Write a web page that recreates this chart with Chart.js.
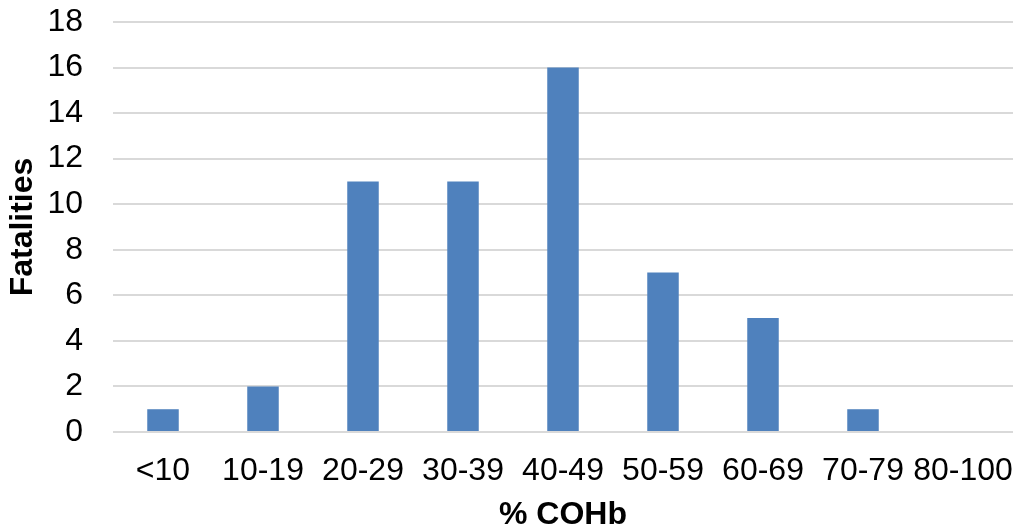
<!DOCTYPE html>
<html>
<head>
<meta charset="utf-8">
<script src="https://cdn.jsdelivr.net/npm/chart.js@4"></script>
<style>
  html, body { margin: 0; padding: 0; background: #ffffff; }
  #wrap { width: 1017px; height: 532px; }
</style>
</head>
<body>
<div id="wrap"><canvas id="c" width="1017" height="532"></canvas></div>
<script>
// COHb saturation bands and the number of fatalities in each
const categories = ['<10', '10-19', '20-29', '30-39', '40-49', '50-59', '60-69', '70-79', '80-100'];
const fatalities = [1, 2, 11, 11, 16, 7, 5, 1, 0];
const yTicks = [0, 2, 4, 6, 8, 10, 12, 14, 16, 18];

const FONT = "'Liberation Sans', Arial, sans-serif";

new Chart(document.getElementById('c'), {
  type: 'bar',
  data: {
    labels: categories,
    datasets: [{
      label: 'Fatalities',
      data: fatalities,
      backgroundColor: '#4F81BD',
      borderWidth: 0,
      categoryPercentage: 1.0,
      barPercentage: 0.315
    }]
  },
  options: {
    responsive: false,
    animation: false,
    layout: { padding: { left: 0, right: 4, top: 22, bottom: 0 } },
    plugins: {
      legend: { display: false },
      tooltip: { enabled: false }
    },
    scales: {
      x: {
        grid: { display: false },
        border: { display: false },
        ticks: {
          color: '#000000',
          font: { family: FONT, size: 32 },
          padding: 12,
          maxRotation: 0,
          autoSkip: false
        },
        title: {
          display: true,
          text: '% COHb',
          color: '#000000',
          font: { family: FONT, size: 32, weight: 'bold', lineHeight: 1.05 },
          padding: 0
        },
        afterFit: (s) => { s.height = 100; s.paddingLeft = 0; s.paddingRight = 0; }
      },
      y: {
        min: 0,
        max: 18,
        afterBuildTicks: (s) => { s.ticks = yTicks.map(v => ({ value: v })); },
        grid: { color: '#D9D9D9', lineWidth: 2, drawTicks: false },
        border: { display: false },
        ticks: {
          color: '#000000',
          font: { family: FONT, size: 32 },
          padding: 30
        },
        title: {
          display: true,
          text: 'Fatalities',
          color: '#000000',
          font: { family: FONT, size: 32, weight: 'bold' },
          padding: { top: 4, bottom: 0 }
        },
        afterFit: (s) => { s.width = 113; s.paddingTop = 0; s.paddingBottom = 0; }
      }
    }
  }
});
</script>
</body>
</html>
